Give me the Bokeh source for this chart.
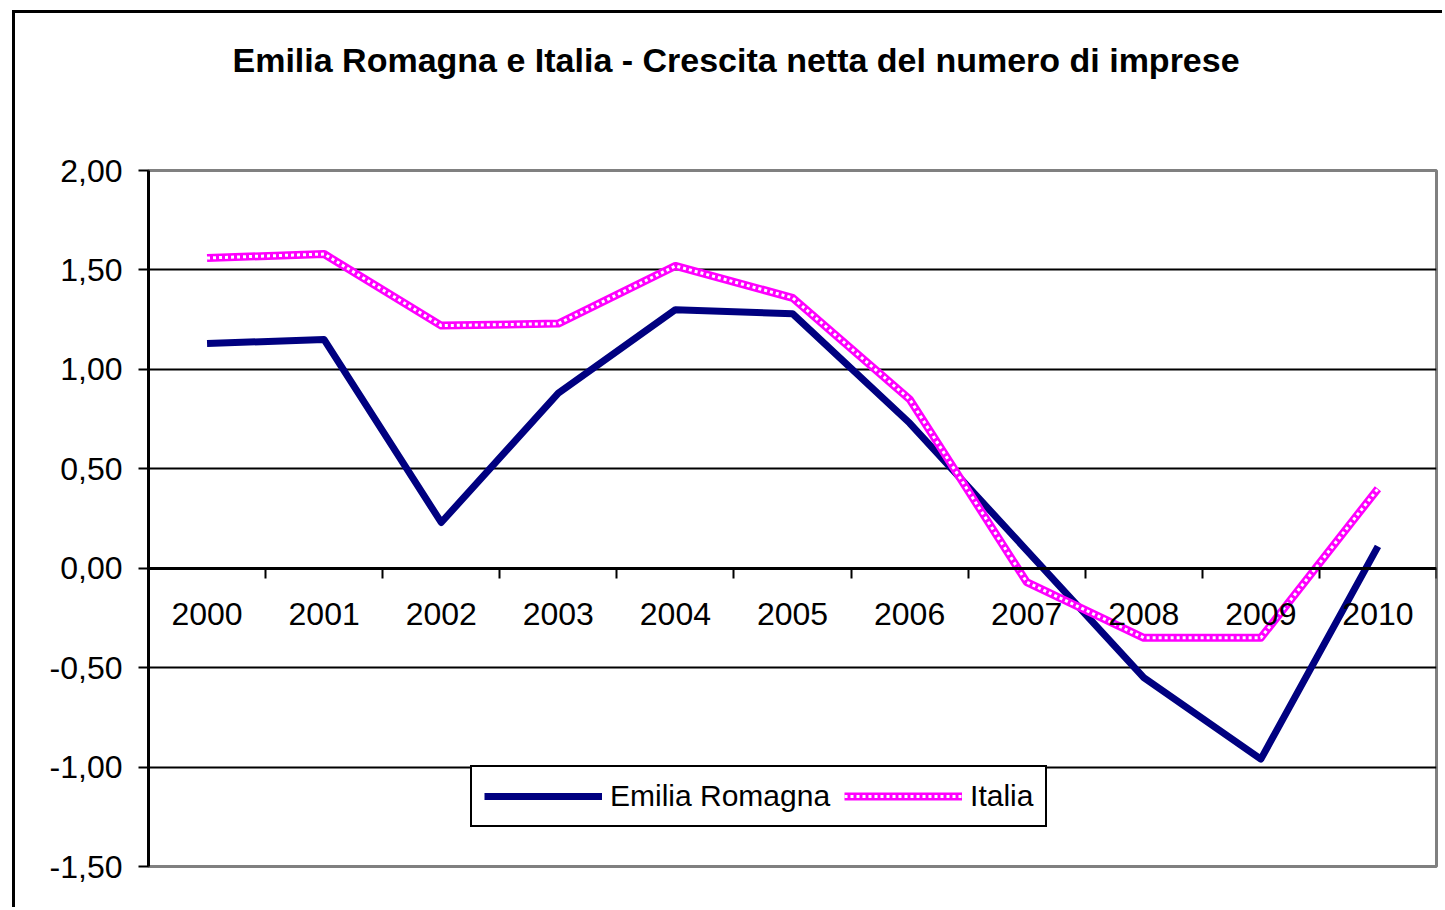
from bokeh.plotting import figure
from bokeh.models import Range1d, FixedTicker, Legend, LegendItem, Title
from bokeh.embed import file_html
from bokeh.resources import INLINE

years = [2000, 2001, 2002, 2003, 2004, 2005, 2006, 2007, 2008, 2009, 2010]
emilia = [1.13, 1.15, 0.23, 0.88, 1.30, 1.28, 0.73, 0.09, -0.55, -0.96, 0.11]
italia = [1.56, 1.58, 1.22, 1.23, 1.52, 1.36, 0.85, -0.07, -0.35, -0.35, 0.40]
y_ticks = [-1.5, -1.0, -0.5, 0.0, 0.5, 1.0, 1.5, 2.0]
y_tick_labels = ["-1,50", "-1,00", "-0,50", "0,00", "0,50", "1,00", "1,50", "2,00"]
title_text = "Emilia Romagna e Italia - Crescita netta del numero di imprese"
series_names = ["Emilia Romagna", "Italia"]

FONT = "Liberation Sans"

p = figure(width=1430, height=897, output_backend="svg", toolbar_location=None,
           x_range=Range1d(years[0] - 0.5, years[-1] + 0.5),
           y_range=Range1d(y_ticks[0], y_ticks[-1]))
p.min_border_left = 133
p.min_border_right = 9
p.min_border_top = 157
p.min_border_bottom = 44
p.background_fill_color = "white"
p.border_fill_color = "white"
p.outline_line_color = "#808080"
p.outline_line_width = 3
p.styles = {"margin-left": "12px", "margin-top": "10px",
            "border-left": "3px solid black", "border-top": "3px solid black"}

# title: spacer (closest to frame) then real title
p.title.visible = False
spacer = Title(text=" ", text_font=FONT, text_font_size="10px", standoff=79)
p.add_layout(spacer, "above")
main_title = Title(text=title_text, align="left", offset=84, standoff=0,
                   text_font=FONT, text_font_size="34px", text_font_style="bold",
                   text_color="black")
p.add_layout(main_title, "above")

# grid
p.xgrid.visible = False
p.ygrid.ticker = FixedTicker(ticks=y_ticks[1:-1])
p.ygrid.grid_line_color = "black"
p.ygrid.grid_line_width = 2

# y axis
p.yaxis.ticker = FixedTicker(ticks=y_ticks)
p.yaxis.major_label_overrides = {t: l for t, l in zip(y_ticks, y_tick_labels)}
p.yaxis.axis_line_width = 3
p.yaxis.axis_line_color = "black"
p.yaxis.major_tick_out = 10
p.yaxis.major_tick_in = 0
p.yaxis.major_tick_line_width = 2
p.yaxis.minor_tick_line_color = None
p.yaxis.major_label_standoff = 16
p.yaxis.major_label_text_font = FONT
p.yaxis.major_label_text_font_size = "32px"
p.yaxis.major_label_text_color = "black"

# x axis at zero
boundaries = [y + 0.5 for y in years]
p.xaxis.ticker = FixedTicker(ticks=years, minor_ticks=boundaries)
p.xaxis.fixed_location = 0
p.xaxis.axis_line_width = 3
p.xaxis.axis_line_color = "black"
p.xaxis.major_tick_out = 0
p.xaxis.major_tick_in = 0
p.xaxis.minor_tick_out = 10
p.xaxis.minor_tick_in = 0
p.xaxis.minor_tick_line_width = 2
p.xaxis.minor_tick_line_color = "black"
p.xaxis.major_label_standoff = 25
p.xaxis.major_label_text_font = FONT
p.xaxis.major_label_text_font_size = "32px"
p.xaxis.major_label_text_color = "black"

r_em = p.line(years, emilia, line_color="#000080", line_width=7, line_join="round")
r_it1 = p.line(years, italia, line_color="#FF00FF", line_width=8, line_join="round")
r_it2 = p.line(years, italia, line_color="white", line_width=3, line_dash="3 3")

legend = Legend(items=[LegendItem(label=series_names[0], renderers=[r_em]),
                       LegendItem(label=series_names[1], renderers=[r_it1, r_it2])],
                orientation="horizontal", location=(322, 39))
legend.border_line_color = "black"
legend.border_line_alpha = 1
legend.border_line_width = 2
legend.background_fill_color = "white"
legend.background_fill_alpha = 1
legend.label_text_font = FONT
legend.label_text_font_size = "30px"
legend.label_text_color = "black"
legend.glyph_width = 118
legend.glyph_height = 30
legend.label_height = 34
legend.label_standoff = 8
legend.spacing = 14
legend.padding = 12
legend.margin = 0
p.add_layout(legend, "center")

open("out.html", "w").write(file_html(p, INLINE))
